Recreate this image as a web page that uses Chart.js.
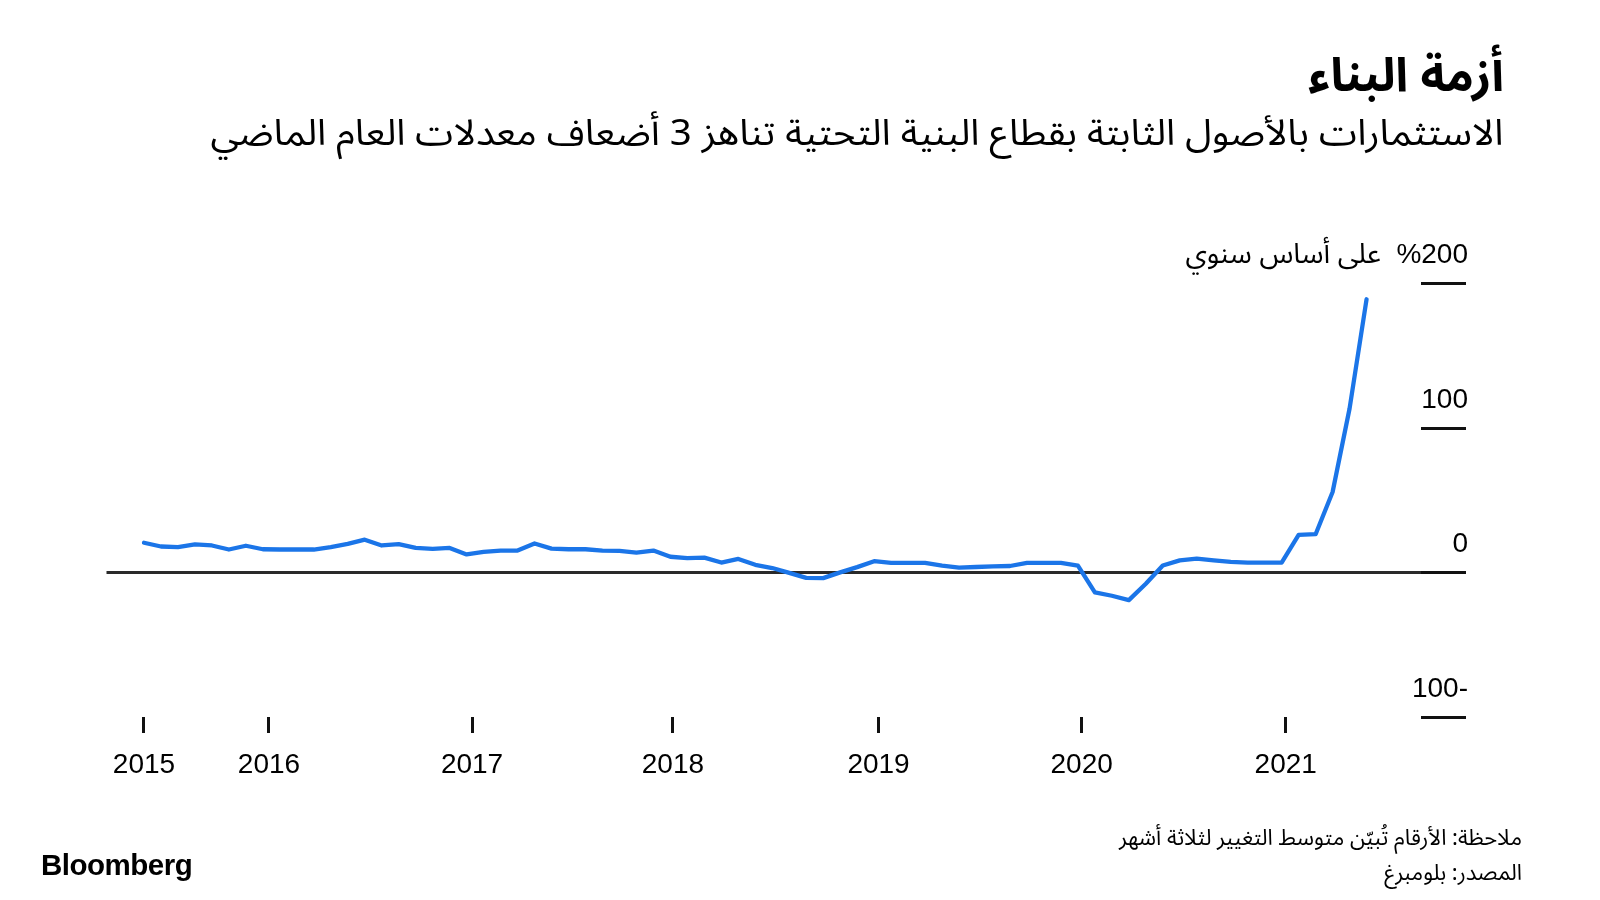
<!DOCTYPE html>
<html lang="ar">
<head>
<meta charset="utf-8">
<script src="https://cdn.jsdelivr.net/npm/chart.js@4.4.1/dist/chart.umd.min.js"></script>
<style>
html,body{margin:0;padding:0;background:#fff;}
#wrap{position:relative;width:1600px;height:900px;overflow:hidden;background:#fff;}
#c{position:absolute;left:0;top:0;}
.t{position:absolute;direction:rtl;white-space:nowrap;color:#000;line-height:1;
   font-family:"Noto Sans Arabic","DejaVu Sans",sans-serif;}
#title{right:96px;top:53px;font-size:47px;font-weight:bold;}
#subtitle{right:96px;top:116px;font-size:36px;transform:scaleX(1.07);transform-origin:right center;}
#note{right:78px;top:827px;font-size:22px;}
#source{right:78px;top:862px;font-size:22px;}
#logo{position:absolute;left:41px;top:850px;font-family:"Liberation Sans",Arial,sans-serif;
      font-weight:bold;font-size:29.5px;line-height:1;color:#000;letter-spacing:-0.5px;}
</style>
</head>
<body>
<div id="wrap">
  <canvas id="c" width="1600" height="900" dir="rtl"></canvas>
  <div class="t" id="title">أزمة البناء</div>
  <div class="t" id="subtitle">الاستثمارات بالأصول الثابتة بقطاع البنية التحتية تناهز 3 أضعاف معدلات العام الماضي</div>
  <div class="t" id="note">ملاحظة: الأرقام تُبيّن متوسط التغيير لثلاثة أشهر</div>
  <div class="t" id="source">المصدر: بلومبرغ</div>
  <div id="logo">Bloomberg</div>
</div>
<script>
// Monthly observations, May 2015 – May 2021
const months = [
  '2015-05','2015-06','2015-07','2015-08','2015-09','2015-10','2015-11','2015-12',
  '2016-01','2016-02','2016-03','2016-04','2016-05','2016-06','2016-07','2016-08','2016-09','2016-10','2016-11','2016-12',
  '2017-01','2017-02','2017-03','2017-04','2017-05','2017-06','2017-07','2017-08','2017-09','2017-10','2017-11','2017-12',
  '2018-01','2018-02','2018-03','2018-04','2018-05','2018-06','2018-07','2018-08','2018-09','2018-10','2018-11','2018-12',
  '2019-01','2019-02','2019-03','2019-04','2019-05','2019-06','2019-07','2019-08','2019-09','2019-10','2019-11','2019-12',
  '2020-01','2020-02','2020-03','2020-04','2020-05','2020-06','2020-07','2020-08','2020-09','2020-10','2020-11','2020-12',
  '2021-01','2021-02','2021-03','2021-04','2021-05'
];
// % y/y, three-month average
const values = [
  20.6, 18.0, 17.6, 19.5, 18.7, 15.9, 18.5, 16.1,
  15.9, 15.9, 15.9, 17.6, 19.8, 22.7, 18.7, 19.7, 17.0, 16.3, 17.0, 12.5,
  14.2, 15.2, 15.2, 20.1, 16.5, 16.1, 16.1, 15.2, 14.9, 13.7, 15.2, 10.9,
  10.0, 10.3, 6.9, 9.4, 5.3, 3.1, -0.3, -3.7, -3.9, 0.1, 3.7, 7.8,
  6.7, 6.7, 6.7, 4.8, 3.4, 3.8, 4.2, 4.5, 6.7, 6.7, 6.7, 4.8,
  -13.8, -16.1, -19.1, -7.8, 4.8, 8.4, 9.6, 8.4, 7.4, 6.9, 6.9, 6.9,
  26.0, 26.5, 55.7, 113.5, 189.1
];
// x-axis year marks (position in months from the first observation)
const yearTicks  = [0, 7.36, 19.32, 31.15, 43.26, 55.22, 67.24];
const yearLabels = ['2015','2016','2017','2018','2019','2020','2021'];
// y-axis ticks
const yTicks  = [-100, 0, 100, 200];
const yLabels = ['-100', '0', '100', '%200  على أساس سنوي'];

const FONT = "'Liberation Sans', Arial, 'Noto Sans Arabic', 'DejaVu Sans', sans-serif";
const TICK_SIZE = 28;
const Y_AXIS_W = 47, Y_TICK_LEN = 45;

new Chart(document.getElementById('c'), {
  type: 'line',
  data: {
    datasets: [{
      data: values.map((v, i) => ({x: i, y: v})),
      borderColor: '#1b75e8',
      borderWidth: 4.3,
      pointRadius: 0,
      tension: 0,
      borderJoinStyle: 'round',
      borderCapStyle: 'round',
      fill: false,
      clip: false
    }]
  },
  options: {
    responsive: false,
    animation: false,
    devicePixelRatio: 1,
    layout: {padding: {left: 106.5, right: 132, top: 283.5, bottom: 103}},
    plugins: {legend: {display: false}, tooltip: {enabled: false}},
    scales: {
      x: {
        type: 'linear',
        min: -2.208, max: 75.206,
        afterBuildTicks: s => { s.ticks = yearTicks.map(v => ({value: v})); },
        afterFit: s => { s.height = 80; },
        border: {display: false},
        grid: {drawOnChartArea: false, drawTicks: true, tickLength: 16,
               color: '#111', tickColor: '#111', lineWidth: 3, tickWidth: 3},
        ticks: {autoSkip: false, maxRotation: 0, minRotation: 0, padding: 15,
                font: {family: FONT, size: TICK_SIZE}, color: '#000',
                callback: (v, i) => yearLabels[i]}
      },
      y: {
        position: 'right',
        min: -100, max: 200,
        afterBuildTicks: s => { s.ticks = yTicks.map(v => ({value: v})); },
        afterFit: s => { s.width = Y_AXIS_W; },
        border: {display: false},
        grid: {
          drawOnChartArea: true, drawTicks: true, tickLength: Y_TICK_LEN,
          color: c => (c.tick && c.tick.value === 0) ? '#2a2a2a' : 'rgba(0,0,0,0)',
          tickColor: '#111', lineWidth: 3, tickWidth: 3
        },
        ticks: {
          mirror: true,
          crossAlign: 'near',
          padding: Y_AXIS_W,
          labelOffset: -28,
          font: {family: FONT, size: TICK_SIZE}, color: '#000',
          callback: (v, i) => yLabels[i]
        }
      }
    }
  }
});
</script>
</body>
</html>
